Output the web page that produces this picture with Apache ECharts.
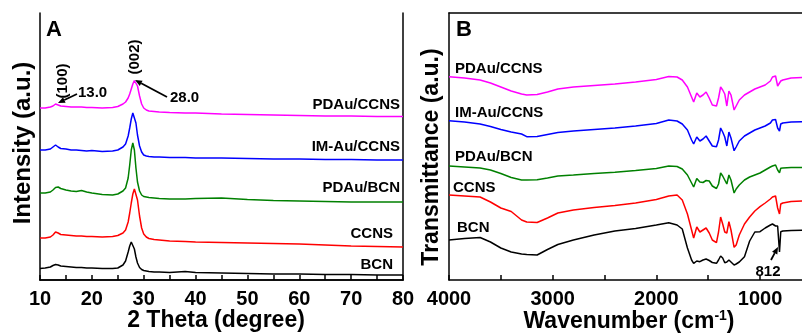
<!DOCTYPE html>
<html><head><meta charset="utf-8">
<script src="https://cdn.jsdelivr.net/npm/echarts@6/dist/echarts.min.js"></script>
<style>html,body{margin:0;padding:0;background:#fff}#c{width:802px;height:333px}</style>
</head><body><div id="c"></div>
<script>
const FONT = "'Liberation Sans', Arial, sans-serif";
const seriesNames = ['PDAu/CCNS', 'IM-Au/CCNS', 'PDAu/BCN', 'CCNS', 'BCN'];
const colors = ['#ff00ff', '#0000ff', '#008000', '#ff0000', '#000000'];

// Panel A: XRD, 2 theta (degree) vs intensity (a.u., stacked offsets)
const xrdTheta = [10, 11, 12, 12.5, 13, 13.5, 14, 15, 16, 17, 18, 19, 20, 22, 24, 25, 26, 26.5, 27, 27.3, 27.6, 27.9, 28.2, 28.5, 28.8, 29.2, 29.6, 30, 30.5, 31, 32, 33, 35, 38, 40, 45, 50, 55, 60, 65, 70, 75, 80];
const xrdPDAuCCNS = [172, 172, 173, 174, 176, 175, 174, 173.5, 173, 173, 173, 172.5, 172.5, 172, 172.5, 173.5, 176, 178, 182, 186, 191, 196, 199.5, 199, 194, 184, 176, 172, 170, 169, 168.5, 168, 167.5, 167, 167, 166, 165.5, 165, 164.5, 164, 164, 163.5, 163.5];
const xrdIMAuCCNS = [130, 130, 131, 133, 135, 133, 131.5, 131, 130, 130, 129.5, 129, 129.5, 128.5, 129, 130, 133, 136, 144, 152, 161, 167, 165, 157, 145, 134, 128, 125, 124, 123.5, 123, 123, 122.5, 122.5, 122, 122, 121.5, 121, 121, 120.5, 120.5, 120, 120];
const xrdPDAuBCN = [87, 87, 88, 90, 92.5, 93, 91.5, 90, 89, 88.5, 89.5, 88, 87, 85.5, 85, 86, 89, 92, 102, 115, 130, 137, 130, 112, 98, 89, 85, 83.5, 83, 82.5, 82, 81.5, 81, 81, 81.5, 82, 80.5, 79.5, 79, 78.5, 78, 78, 78];
const xrdCCNS = [42, 42, 43, 45, 48, 47, 45.5, 45, 44.5, 44, 44, 43.5, 43.5, 43, 43.5, 44.5, 47, 50, 58, 67, 77, 86, 91, 89, 80, 64, 52, 46, 43, 41.5, 40.5, 40, 39, 38.5, 38, 37.5, 37, 36.5, 36, 35, 34, 33.5, 33];
const xrdBCN = [11.5, 12, 13, 14.5, 15.5, 15, 14, 13.5, 13, 12.5, 12.5, 12, 12, 11.5, 11.5, 12, 15, 19, 28, 34, 38, 37, 31, 23, 17, 12.5, 10.5, 9.5, 9, 8.5, 8, 8, 7.5, 8.5, 7.5, 7, 6.5, 6, 6, 5.5, 5.5, 5, 5];

// Panel B: FTIR, wavenumber (cm-1) vs transmittance (a.u., stacked offsets)
const ftirWave = [4000, 3850, 3700, 3600, 3500, 3400, 3300, 3250, 3150, 3050, 2950, 2800, 2600, 2400, 2200, 2000, 1880, 1800, 1750, 1700, 1660, 1640, 1610, 1580, 1550, 1520, 1490, 1460, 1420, 1400, 1380, 1360, 1340, 1320, 1300, 1280, 1250, 1230, 1200, 1150, 1100, 1050, 1000, 950, 900, 880, 850, 830, 812, 800, 780, 700, 500];
const ftirPDAuCCNS = [203.3, 202, 200, 197, 193, 189, 186, 185, 185.5, 188, 191, 193, 194.5, 196, 198, 200.5, 203.5, 203, 200, 193, 183, 178, 187, 183, 185, 188, 182, 175, 174, 182, 193, 190, 186, 174, 189, 185, 170, 174, 180, 185, 188, 191, 193, 195, 199, 203, 204, 194, 192, 199, 200, 202, 203];
const ftirIMAuCCNS = [159.3, 158, 156, 153.5, 150.5, 148, 146, 143.3, 143.5, 145.5, 147.5, 149, 150.5, 152, 154, 156.5, 160, 159, 156, 150, 140, 136, 143, 139, 141, 144, 139, 134, 133.3, 140, 152, 148, 143, 134, 148, 142, 129.3, 133, 139, 144, 147, 150, 152, 154, 157, 160, 160.5, 152, 149, 156, 157, 158, 158.3];
const ftirPDAuBCN = [114, 113, 112, 110, 106.5, 102.5, 100, 100, 100.3, 102, 104, 105, 106.5, 107.7, 109.5, 111.5, 114, 113.5, 111, 105, 97, 93, 101.5, 98, 97.5, 99.5, 99, 94, 91.5, 96, 107, 104, 100, 96, 105, 100, 87, 91, 95, 100, 103, 105, 107, 110, 113, 114, 115, 110, 107.3, 111.7, 112, 112.5, 112.7];
const ftirCCNS = [85, 84, 83, 78, 72, 68.5, 60, 58, 57.5, 62, 67, 70, 72.5, 74.5, 77, 80.5, 84, 85, 80, 66, 50, 42, 53, 48, 50, 52, 47, 40, 37.3, 48, 63, 56, 48, 47, 58.3, 50, 32.7, 35, 45, 56, 63, 69, 73.3, 77, 81, 83, 84, 72, 66, 76, 77, 78.5, 79.5];
const ftirBCN = [40, 41.5, 42.5, 38, 32, 28, 26, 25.5, 25, 30.5, 35.5, 40, 45, 49, 51.5, 55, 57.3, 55, 51, 32, 20, 16.7, 19, 18.3, 20, 21, 19.5, 17.5, 16.7, 20, 24, 22, 17.3, 18, 20, 18, 15, 16, 18, 23.3, 39, 48, 48.3, 52, 55, 56, 54, 54, 28, 48.3, 49, 49.5, 50];

// tick values
const ftirTicks = [4000, 3500, 3000, 2500, 2000, 1500, 1000];
const ftirLabels = [4000, 3000, 2000, 1000];

const xrdSets = [xrdPDAuCCNS, xrdIMAuCCNS, xrdPDAuBCN, xrdCCNS, xrdBCN];
const ftirSets = [ftirPDAuCCNS, ftirIMAuCCNS, ftirPDAuBCN, ftirCCNS, ftirBCN];
const zip = (xs, ys) => xs.map((x, i) => [x, ys[i]]);

const chart = echarts.init(document.getElementById('c'), null, {renderer: 'canvas'});

const axisLineStyle = {show: true, lineStyle: {color: '#000', width: 1.5}};
const tickLabel = {color: '#000', fontFamily: FONT, fontWeight: 'bold', fontSize: 20, margin: 9};
const frameAxis = (extra) => Object.assign({
  type: 'value', min: 0, max: 1, axisLine: axisLineStyle,
  axisTick: {show: false}, axisLabel: {show: false}, splitLine: {show: false}
}, extra);

const series = [];
seriesNames.forEach((n, i) => {
  series.push({name: n, type: 'line', xAxisIndex: 0, yAxisIndex: 0, data: zip(xrdTheta, xrdSets[i]),
    showSymbol: false, symbol: 'none', lineStyle: {color: colors[i], width: 1.5}, itemStyle: {color: colors[i]}, animation: false});
  series.push({name: n + ' FTIR', type: 'line', xAxisIndex: 2, yAxisIndex: 2, data: zip(ftirWave, ftirSets[i]),
    showSymbol: false, symbol: 'none', lineStyle: {color: colors[i], width: 1.5}, itemStyle: {color: colors[i]}, animation: false});
});

const txt = (x, y, text, opts) => ({
  type: 'text', x: x, y: y, rotation: (opts && opts.rot) || 0,
  style: Object.assign({text: text, fill: '#000', font: 'bold ' + ((opts && opts.size) || 15) + 'px ' + FONT,
    align: (opts && opts.align) || 'left', verticalAlign: 'middle'}, (opts && opts.style) || {})
});
const arrow = (x1, y1, x2, y2) => {
  const dx = x2 - x1, dy = y2 - y1, L = Math.hypot(dx, dy), ux = dx / L, uy = dy / L;
  const hl = 7, hw = 3;
  const bx = x2 - ux * hl, by = y2 - uy * hl;
  return [
    {type: 'line', shape: {x1: x1, y1: y1, x2: bx, y2: by}, style: {stroke: '#000', lineWidth: 1.8}},
    {type: 'polygon', shape: {points: [[x2, y2], [bx - uy * hw, by + ux * hw], [bx + uy * hw, by - ux * hw]]}, style: {fill: '#000'}}
  ];
};

const graphics = [
  txt(46, 30, 'A', {size: 22}),
  txt(456, 30, 'B', {size: 22}),
  txt(400, 105, 'PDAu/CCNS', {align: 'right'}),
  txt(400, 147, 'IM-Au/CCNS', {align: 'right'}),
  txt(400, 188, 'PDAu/BCN', {align: 'right'}),
  txt(393, 234, 'CCNS', {align: 'right'}),
  txt(393, 265, 'BCN', {align: 'right'}),
  txt(455, 69, 'PDAu/CCNS'),
  txt(455, 113, 'IM-Au/CCNS'),
  txt(455, 157, 'PDAu/BCN'),
  txt(453, 188, 'CCNS'),
  txt(457, 228, 'BCN'),
  txt(78, 93, '13.0'),
  txt(170, 98, '28.0'),
  txt(768, 272, '812', {align: 'center'}),
  txt(63, 81, '(100)', {align: 'center', rot: Math.PI / 2}),
  txt(135, 57, '(002)', {align: 'center', rot: Math.PI / 2}),
  txt(23, 143, 'Intensity (a.u.)', {align: 'center', rot: Math.PI / 2, size: 24}),
  txt(432, 157, 'Transmittance (a.u.)', {align: 'center', rot: Math.PI / 2, size: 23}),
  txt(216, 321, '2 Theta (degree)', {align: 'center', size: 23}),
  {type: 'text', x: 629, y: 322, style: {text: 'Wavenumber (cm{sup|-1})', fill: '#000', font: 'bold 23px ' + FONT,
    align: 'center', verticalAlign: 'middle',
    rich: {sup: {fontSize: 14, fontWeight: 'bold', fontFamily: FONT, fill: '#000', verticalAlign: 'top', padding: [0, 0, 12, 0]}}}}
].concat(arrow(77, 94, 58, 103), arrow(167, 97, 135, 80), arrow(771, 260, 778, 247));

chart.setOption({
  animation: false,
  backgroundColor: '#fff',
  grid: [
    {left: 40, top: 13, width: 363, height: 267},
    {left: 449, top: 13, right: 0, height: 267}
  ],
  xAxis: [
    {type: 'value', gridIndex: 0, position: 'bottom', min: 10, max: 80, interval: 5,
      axisLine: axisLineStyle, axisTick: {show: true, inside: true, length: 5, lineStyle: {color: '#000', width: 1.5}},
      axisLabel: Object.assign({}, tickLabel, {formatter: v => (v % 10 === 0 ? String(v) : '')}),
      splitLine: {show: false}},
    frameAxis({gridIndex: 0, position: 'top'}),
    {type: 'value', gridIndex: 1, position: 'bottom', min: 595, max: 4000, inverse: true,
      axisLine: axisLineStyle,
      axisTick: {show: true, inside: true, length: 5, customValues: ftirTicks, lineStyle: {color: '#000', width: 1.5}},
      axisLabel: Object.assign({}, tickLabel, {customValues: ftirLabels, formatter: v => String(v)}),
      splitLine: {show: false}},
    frameAxis({gridIndex: 1, position: 'top'})
  ],
  yAxis: [
    frameAxis({gridIndex: 0, position: 'left', min: 0, max: 267}),
    frameAxis({gridIndex: 0, position: 'right'}),
    frameAxis({gridIndex: 1, position: 'left', min: 0, max: 267})
  ],
  series: series,
  graphic: graphics
});
</script>
</body></html>
